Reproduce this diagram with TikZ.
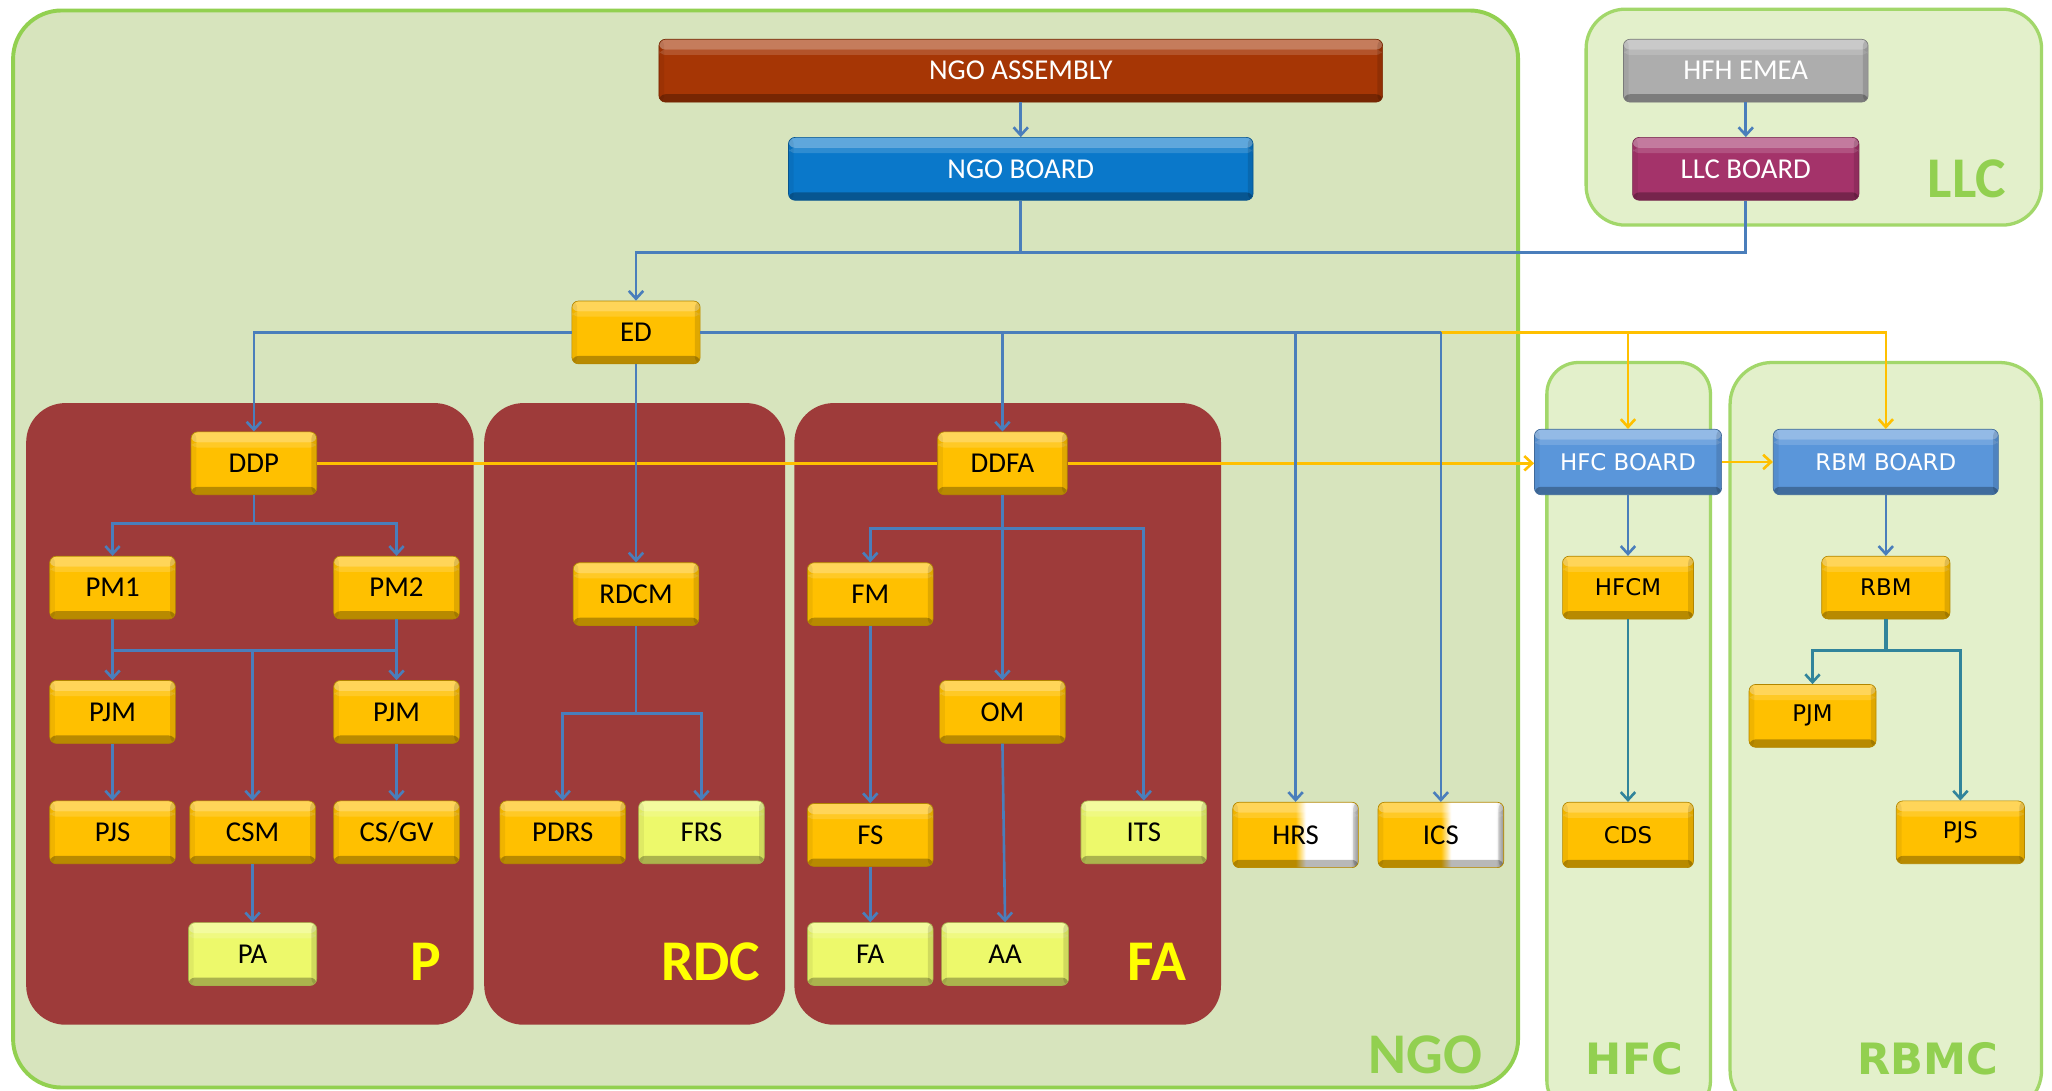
\documentclass[tikz,border=0pt]{standalone}
\usepackage{fontspec}
\setmainfont{Carlito}
\newfontfamily\vfont{DejaVu Sans}
\usetikzlibrary{arrows.meta}
\definecolor{ngofill}{HTML}{D7E4BD}
\definecolor{ngogreen}{HTML}{92D050}
\definecolor{llcfill}{HTML}{E3F0CB}
\definecolor{panelred}{HTML}{9E3B3A}
\definecolor{cgold}{HTML}{FFC000}
\definecolor{clight}{HTML}{EDF96B}
\definecolor{casm}{HTML}{A63605}
\definecolor{cboard}{HTML}{0A78CA}
\definecolor{cgray}{HTML}{ADADAD}
\definecolor{cllc}{HTML}{A4336A}
\definecolor{cblue}{HTML}{5A96DA}
\definecolor{cline}{HTML}{4A7EBB}
\definecolor{cteal}{HTML}{31849B}
\definecolor{cyl}{HTML}{FFC000}
\definecolor{lblyellow}{HTML}{FFFF00}
\pgfdeclarehorizontalshading{halfgw}{100bp}{color(0bp)=(cgold); color(50bp)=(cgold); color(54bp)=(white); color(72bp)=(white); color(75bp)=(gray!70); color(100bp)=(gray!70)}
\tikzset{
  bevel/.style={path picture={
    \fill[white,opacity=0.35] (path picture bounding box.north west) rectangle ([yshift=-8pt]path picture bounding box.north east);
    \fill[white,opacity=0.15] ([yshift=-8pt]path picture bounding box.north west) rectangle ([yshift=-12pt]path picture bounding box.north east);
    \fill[black,opacity=0.28] (path picture bounding box.south west) rectangle ([yshift=6pt]path picture bounding box.south east);
    \fill[black,opacity=0.12] (path picture bounding box.south east) rectangle ([xshift=-4pt]path picture bounding box.north east);
    \fill[black,opacity=0.06] (path picture bounding box.south west) rectangle ([xshift=4pt]path picture bounding box.north west);
  }},
  btn/.style={rounded corners=5pt, minimum height=48pt, inner sep=0pt, text=black,
    font=\fontsize{22}{26}\selectfont, draw=#1!70!black, line width=0.5pt, fill=#1, bevel},
  gnode/.style={btn=cgold, minimum width=96pt},
  lnode/.style={btn=clight, minimum width=96pt},
  hnode/.style={btn=cgold, minimum width=96pt, shading=halfgw},
  wnode/.style={btn=cgold, minimum width=100pt, font=\vfont\fontsize{17.5}{20}\selectfont},
  cnode/.style={btn=#1, text=white},
  bl/.style={draw=cline, line width=2pt},
  tl/.style={draw=cteal, line width=2pt},
  yl/.style={draw=cyl, line width=2pt},
  arr/.style={-{Straight Barb[length=6pt,width=11pt]}},
  biglbl/.style={inner sep=0pt, font=\bfseries\fontsize{44}{44}\selectfont},
  vbiglbl/.style={inner sep=0pt, text=ngogreen, font=\vfont\bfseries\fontsize{33}{33}\selectfont},
}
\begin{document}
\begin{tikzpicture}[x=1pt,y=-1pt]
\useasboundingbox (0,0) rectangle (1568,833);
\clip (0,0) rectangle (1568,833);
\fill[white] (0,0) rectangle (1568,833);

% containers
\draw[fill=ngofill, draw=ngogreen, line width=3pt, rounded corners=37pt] (10,8) rectangle (1160,831);
\draw[fill=llcfill, draw=ngogreen!85!white, line width=2.5pt, rounded corners=30pt] (1212,7) rectangle (1560,172);
\draw[fill=llcfill, draw=ngogreen!85!white, line width=2.5pt, rounded corners=24pt] (1182,277) rectangle (1307,850);
\draw[fill=llcfill, draw=ngogreen!85!white, line width=2.5pt, rounded corners=32pt] (1322,277) rectangle (1560,850);
\fill[panelred, rounded corners=30pt] (20,308) rectangle (362,783);
\fill[panelred, rounded corners=30pt] (370,308) rectangle (600,783);
\fill[panelred, rounded corners=30pt] (607,308) rectangle (933,783);

% big labels
\node[biglbl, text=ngogreen] (lblngo) at (1089,806) {NGO};
\node[biglbl, text=ngogreen] (lblllc) at (1503,137) {LLC};
\node[biglbl, text=lblyellow] (lblp) at (325,735) {P};
\node[biglbl, text=lblyellow] (lblrdc) at (543,735) {RDC};
\node[biglbl, text=lblyellow] (lblfa) at (884,735) {FA};
\node[vbiglbl] (lblhfc) at (1249,809) {HFC};
\node[vbiglbl] (lblrbmc) at (1473,809) {RBMC};

% nodes
\node[cnode=casm, minimum width=553pt] (asm) at (780,54) {NGO ASSEMBLY};
\node[cnode=cboard, minimum width=355pt] (board) at (780,129) {NGO BOARD};
\node[cnode=cgray, minimum width=187pt] (hfh) at (1334,54) {HFH EMEA};
\node[cnode=cllc, minimum width=173pt] (llcb) at (1334,129) {LLC BOARD};
\node[gnode, minimum width=98pt] (ed) at (486,254) {ED};

\node[gnode] (ddp) at (194,354) {DDP};
\node[gnode, minimum width=99pt] (ddfa) at (766,354) {DDFA};
\node[cnode=cblue, minimum width=143pt, minimum height=50pt, font=\vfont\fontsize{17.5}{20}\selectfont] (hfcb) at (1244,353) {HFC BOARD};
\node[cnode=cblue, minimum width=172pt, minimum height=50pt, font=\vfont\fontsize{17.5}{20}\selectfont] (rbmb) at (1441,353) {RBM BOARD};

\node[gnode] (pm1) at (86,449) {PM1};
\node[gnode] (pm2) at (303,449) {PM2};
\node[gnode] (rdcm) at (486,454) {RDCM};
\node[gnode] (fm) at (665,454) {FM};
\node[wnode] (hfcm) at (1244,449) {HFCM};
\node[wnode, minimum width=98pt] (rbm) at (1441,449) {RBM};

\node[gnode] (pjma) at (86,544) {PJM};
\node[gnode] (pjmb) at (303,544) {PJM};
\node[gnode] (om) at (766,544) {OM};
\node[wnode, minimum width=97pt] (pjmc) at (1385,547) {PJM};

\node[gnode] (pjs) at (86,636) {PJS};
\node[gnode] (csm) at (193,636) {CSM};
\node[gnode] (csgv) at (303,636) {CS/GV};
\node[gnode] (pdrs) at (430,636) {PDRS};
\node[lnode] (frs) at (536,636) {FRS};
\node[gnode] (fs) at (665,638) {FS};
\node[lnode] (its) at (874,636) {ITS};
\node[hnode, minimum height=50pt] (hrs) at (990,638) {HRS};
\node[hnode, minimum height=50pt] (ics) at (1101,638) {ICS};
\node[wnode, minimum height=50pt] (cds) at (1244,638) {CDS};
\node[wnode, minimum width=98pt] (pjsc) at (1498,636) {PJS};

\node[lnode, minimum width=98pt] (pa) at (193,729) {PA};
\node[lnode] (fa) at (665,729) {FA};
\node[lnode, minimum width=97pt] (aa) at (768,729) {AA};

% junction coordinates
\coordinate (jB) at (780,193);
\coordinate (jY) at (1101,254);
\coordinate (jP) at (194,400);
\coordinate (hP) at (193,497);
\coordinate (hR) at (486,545);
\coordinate (hF) at (766,404);
\coordinate (hRB) at (1441,497);

% yellow connectors
\draw[yl] (ddp.east) -- (ddfa.west);
\draw[yl,arr] (ddfa.east) -- (ddfa.east -| hfcb.west);
\draw[yl,arr] (hfcb.east) -- (rbmb.west);
\draw[yl,arr] (jY) -| (rbmb.north);
\draw[yl,arr] (hfcb.north |- jY) -- (hfcb.north);

% blue connectors
\draw[bl,arr] (asm.south) -- (board.north);
\draw[bl,arr] (board.south) -- (jB) -| (ed.north);
\draw[bl] (llcb.south) |- (jB);
\draw[bl,arr] (hfh.south) -- (llcb.north);
\draw[bl,arr] (ed.west) -| (ddp.north);
\draw[bl,arr] (ed.south) -- (rdcm.north);
\draw[bl] (ed.east) -- (jY);
\draw[bl,arr] (ddfa.north |- ed.east) -- (ddfa.north);
\draw[bl,arr] (hrs.north |- ed.east) -- (hrs.north);
\draw[bl,arr] (jY) -- (ics.north);

\draw[bl] (ddp.south) -- (jP);
\draw[bl,arr] (jP) -| (pm1.north);
\draw[bl,arr] (jP) -| (pm2.north);
\draw[bl,arr] (pm1.south) -- (pjma.north);
\draw[bl,arr] (pm2.south) -- (pjmb.north);
\draw[bl] (pm1.south |- hP) -- (pm2.south |- hP);
\draw[bl,arr] (hP) -- (csm.north);
\draw[bl,arr] (pjma.south) -- (pjs.north);
\draw[bl,arr] (pjmb.south) -- (csgv.north);
\draw[bl,arr] (csm.south) -- (pa.north);

\draw[bl] (rdcm.south) -- (hR);
\draw[bl,arr] (hR) -| (pdrs.north);
\draw[bl,arr] (hR) -| (frs.north);

\draw[bl,arr] (ddfa.south) -- (om.north);
\draw[bl,arr] (hF) -| (fm.north);
\draw[bl,arr] (hF) -| (its.north);
\draw[bl,arr] (fm.south) -- (fs.north);
\draw[bl,arr] (fs.south) -- (fa.north);
\draw[bl,arr] (om.south) -- (aa.north);

\draw[bl,arr] (hfcb.south) -- (hfcm.north);
\draw[bl,arr] (rbmb.south) -- (rbm.north);
\draw[tl,arr] (hfcm.south) -- (cds.north);
\draw[tl, line width=3.5pt] (rbm.south) -- (hRB);
\draw[tl,arr] (hRB) -| (pjmc.north);
\draw[tl,arr] (hRB) -| (pjsc.north);
\end{tikzpicture}
\end{document}
